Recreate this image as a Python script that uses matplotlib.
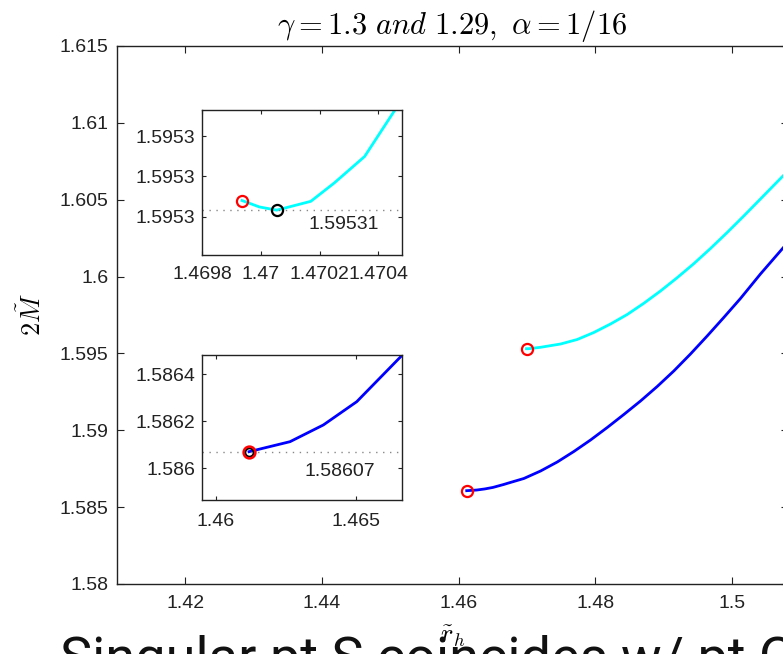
import matplotlib
matplotlib.use('Agg')
import matplotlib.pyplot as plt
import numpy as np

plt.rcParams['font.family'] = 'Liberation Sans'
plt.rcParams['mathtext.fontset'] = 'cm'

# gamma = 1.29 branch (cyan), starts at singular point S
r_cyan = [1.469936, 1.469995, 1.470054, 1.470170, 1.470250, 1.470353, 1.470456,
          1.471993, 1.474918, 1.477360, 1.479788, 1.482230, 1.484673, 1.487101,
          1.489543, 1.491985, 1.494413, 1.496856, 1.499298, 1.501726, 1.504168,
          1.507532, 1.508117]
m_cyan = [1.5953070, 1.5953062, 1.5953058, 1.5953069, 1.5953092, 1.5953125, 1.5953183,
          1.595399, 1.595613, 1.595907, 1.596362, 1.596915, 1.597533, 1.598262,
          1.599062, 1.599927, 1.600838, 1.601827, 1.602867, 1.603941, 1.605047,
          1.606576, 1.606842]

# gamma = 1.3 branch (blue)
r_blue = [1.461179, 1.462643, 1.463832, 1.465025, 1.466654, 1.467122, 1.469550,
          1.471993, 1.474435, 1.476863, 1.479305, 1.481748, 1.484175, 1.486618,
          1.489060, 1.491488, 1.493931, 1.496373, 1.498801, 1.501243, 1.504168,
          1.507532, 1.508117]
m_blue = [1.5860706, 1.5861132, 1.5861843, 1.5862834, 1.5864821, 1.586546, 1.586865,
          1.587352, 1.587938, 1.588621, 1.589369, 1.590182, 1.591028, 1.591906,
          1.592849, 1.593858, 1.594964, 1.596135, 1.597338, 1.598574, 1.600168,
          1.601892, 1.602191]

# minimum of each branch (point C)
r_min_cyan, m_min_cyan = 1.470054, 1.5953058
r_min_blue, m_min_blue = 1.461179, 1.5860706

main_xticks = [1.42, 1.44, 1.46, 1.48, 1.5]
main_xlabels = ['1.42', '1.44', '1.46', '1.48', '1.5']
main_yticks = [1.58, 1.585, 1.59, 1.595, 1.6, 1.605, 1.61, 1.615]
main_ylabels = ['1.58', '1.585', '1.59', '1.595', '1.6', '1.605', '1.61', '1.615']

in1_xticks = [1.4698, 1.47, 1.4702, 1.4704]
in1_xlabels = ['1.4698', '1.47', '1.4702', '1.4704']
in1_yticks = [1.595305, 1.59531, 1.595315]
in1_ylabels = ['1.5953', '1.5953', '1.5953']

in2_xticks = [1.46, 1.465]
in2_xlabels = ['1.46', '1.465']
in2_yticks = [1.586, 1.5862, 1.5864]
in2_ylabels = ['1.586', '1.5862', '1.5864']

W, H = 783, 654
fig = plt.figure(figsize=(W / 100, H / 100), dpi=100)

def box(x0, y0, x1, y1):
    # pixel box (top-left origin) -> figure fraction rect
    return [x0 / W, (H - y1) / H, (x1 - x0) / W, (y1 - y0) / H]

def style(ax, length, lsize):
    ax.tick_params(direction='in', top=True, right=True, length=length,
                   width=0.8, labelsize=lsize, colors='#222222')
    for s in ax.spines.values():
        s.set_linewidth(1.0)
        s.set_color('#222222')

ax = fig.add_axes(box(117, 46, 788, 584))
ax.plot(r_cyan, m_cyan, color='#00ffff', lw=2)
ax.plot(r_blue, m_blue, color='#0000ff', lw=2)
ax.plot(r_cyan[0], m_cyan[0], 'o', mfc='none', mec='red', ms=8, mew=1.6)
ax.plot(r_blue[0], m_blue[0], 'o', mfc='none', mec='red', ms=8, mew=1.6)
ax.set_xlim(1.41, 1.5082)
ax.set_ylim(1.58, 1.615)
ax.set_xticks(main_xticks)
ax.set_xticklabels(main_xlabels)
ax.set_yticks(main_yticks)
ax.set_yticklabels(main_ylabels)
style(ax, 5, 14)
ax.tick_params(axis='x', pad=8)
ax.tick_params(axis='y', pad=6)
ax.set_title(r'$\gamma = 1.3\ \mathit{and}\ 1.29,\ \alpha = 1/16$', fontsize=22, pad=9)
ax.set_xlabel(r'$\tilde{r}_h$', fontsize=19, labelpad=8)
ax.set_ylabel(r'$2\tilde{M}$', fontsize=19, labelpad=10)

# zoom on the cyan branch near S
a1 = fig.add_axes(box(202, 110, 402, 255))
a1.plot(r_cyan, m_cyan, color='#00ffff', lw=2)
a1.axhline(m_min_cyan, color='#888888', lw=1, ls=(0, (1, 4)))
a1.plot(r_cyan[0], m_cyan[0], 'o', mfc='none', mec='red', ms=8, mew=1.6)
a1.plot(r_min_cyan, m_min_cyan, 'o', mfc='none', mec='black', ms=8, mew=1.6)
a1.text(0.535, 0.21, '%g' % round(m_min_cyan, 5), transform=a1.transAxes,
        fontsize=14, va='center', color='#222222')
a1.set_xlim(1.4698, 1.47048)
a1.set_ylim(1.5953002, 1.5953183)
a1.set_xticks(in1_xticks)
a1.set_xticklabels(in1_xlabels)
a1.set_yticks(in1_yticks)
a1.set_yticklabels(in1_ylabels)
style(a1, 3, 14)
a1.tick_params(axis='x', pad=8)
a1.tick_params(axis='y', pad=5)

# zoom on the blue branch near S
a2 = fig.add_axes(box(202, 355, 402, 500))
a2.plot(r_blue, m_blue, color='#0000ff', lw=2)
a2.axhline(m_min_blue, color='#888888', lw=1, ls=(0, (1, 4)))
a2.plot(r_min_blue, m_min_blue, 'o', mfc='none', mec='black', ms=6, mew=1.4)
a2.plot(r_blue[0], m_blue[0], 'o', mfc='none', mec='red', ms=8.5, mew=1.8)
a2.text(0.515, 0.20, '%g' % round(m_min_blue, 5), transform=a2.transAxes,
        fontsize=14, va='center', color='#222222')
a2.set_xlim(1.4595, 1.46664)
a2.set_ylim(1.585865, 1.586482)
a2.set_xticks(in2_xticks)
a2.set_xticklabels(in2_xlabels)
a2.set_yticks(in2_yticks)
a2.set_yticklabels(in2_ylabels)
style(a2, 3, 14)
a2.tick_params(axis='x', pad=9)
a2.tick_params(axis='y', pad=5)

fig.text(60 / W, -21 / H, 'Singular pt S coincides w/ pt C', fontsize=39,
         family='Roboto', va='baseline', ha='left', color='#111111')

fig.savefig('out.png', dpi=100)
